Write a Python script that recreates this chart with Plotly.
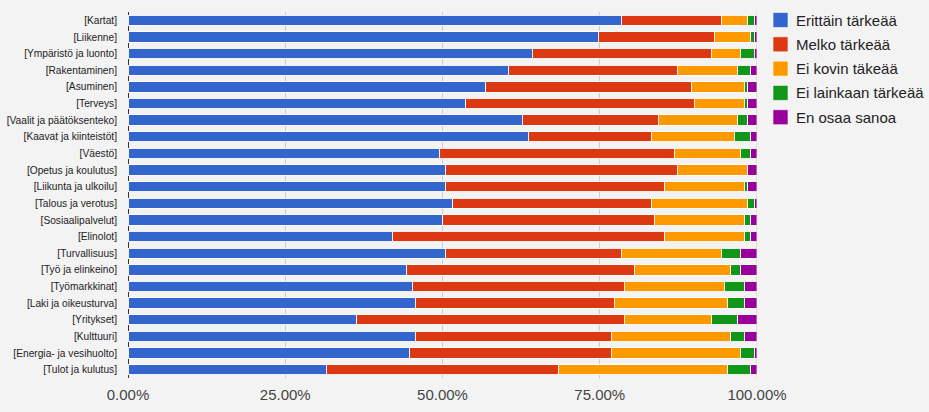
import plotly.graph_objects as go

categories = ["[Kartat]", "[Liikenne]", "[Ympäristö ja luonto]", "[Rakentaminen]", "[Asuminen]",
              "[Terveys]", "[Vaalit ja päätöksenteko]", "[Kaavat ja kiinteistöt]", "[Väestö]",
              "[Opetus ja koulutus]", "[Liikunta ja ulkoilu]", "[Talous ja verotus]",
              "[Sosiaalipalvelut]", "[Elinolot]", "[Turvallisuus]", "[Työ ja elinkeino]",
              "[Työmarkkinat]", "[Laki ja oikeusturva]", "[Yritykset]", "[Kulttuuri]",
              "[Energia- ja vesihuolto]", "[Tulot ja kulutus]"]

erittain = [78.4, 74.8, 64.3, 60.5, 56.9, 53.7, 62.7, 63.7, 49.5, 50.5, 50.5, 51.6, 50.0, 42.0,
            50.5, 44.3, 45.3, 45.7, 36.4, 45.7, 44.8, 31.5]
melko = [15.9, 18.4, 28.4, 26.8, 32.7, 36.3, 21.6, 19.5, 37.4, 36.8, 34.8, 31.6, 33.7, 43.3,
         27.9, 36.2, 33.6, 31.6, 42.5, 31.1, 32.0, 37.0]
ei_kovin = [4.2, 5.7, 4.6, 9.6, 8.4, 8.0, 12.6, 13.2, 10.4, 11.2, 12.7, 15.3, 14.3, 12.7,
            15.9, 15.3, 15.9, 18.0, 13.8, 19.0, 20.5, 26.8]
ei_lainkaan = [1.1, 0.7, 2.3, 2.0, 0.5, 0.5, 1.6, 2.5, 1.6, 0.0, 0.5, 1.1, 0.9, 0.9,
               3.0, 1.5, 3.2, 2.7, 4.2, 2.2, 2.3, 3.6]
en_osaa = [0.4, 0.4, 0.4, 1.1, 1.5, 1.5, 1.5, 1.1, 1.1, 1.5, 1.5, 0.4, 1.1, 1.1,
           2.7, 2.7, 2.0, 2.0, 3.1, 2.0, 0.4, 1.1]

tick_vals = [0, 0.25, 0.5, 0.75, 1.0]
tick_text = ["0.00%", "25.00%", "50.00%", "75.00%", "100.00%"]

series_names = ["Erittäin tärkeää", "Melko tärkeää", "Ei kovin täkeää", "Ei lainkaan tärkeää", "En osaa sanoa"]
series_values = [erittain, melko, ei_kovin, ei_lainkaan, en_osaa]
series_colors = ["#3366cc", "#dc3912", "#ff9900", "#109618", "#990099"]

W, H = 929, 412
ML, MR, MT, MB = 128, 172, 12, 34

fig = go.Figure()
for name, vals, col in zip(series_names, series_values, series_colors):
    fig.add_trace(go.Bar(
        y=categories, x=[v / 100 for v in vals], name=name, orientation="h",
        marker=dict(color=col, line=dict(color="rgba(255,255,255,0.9)", width=1)),
        showlegend=False,
    ))

# manual legend (paper coordinates converted from pixels)
plot_w = W - ML - MR
plot_h = H - MT - MB
def px_x(px):
    return (px - ML) / plot_w
def px_y(py):
    return 1 - (py - MT) / plot_h

leg_y0 = 20
leg_step = 24.3
for i, (name, col) in enumerate(zip(series_names, series_colors)):
    cy = leg_y0 + i * leg_step
    fig.add_shape(type="rect", xref="paper", yref="paper",
                  x0=px_x(773), x1=px_x(788), y0=px_y(cy + 7.5), y1=px_y(cy - 7.5),
                  fillcolor=col, line=dict(color="rgba(255,255,255,0.6)", width=1))
    fig.add_annotation(xref="paper", yref="paper", x=px_x(794), y=px_y(cy),
                       text=name, showarrow=False, xanchor="left", yanchor="middle",
                       font=dict(size=15, color="#222222"))

fig.update_layout(
    barmode="stack",
    bargap=0.38,
    width=W, height=H,
    margin=dict(l=ML, r=MR, t=MT, b=MB, autoexpand=False),
    paper_bgcolor="#f3f3f3",
    plot_bgcolor="#f3f3f3",
    font=dict(family="Arial, Liberation Sans, sans-serif", color="#222222"),
    showlegend=False,
)
fig.update_xaxes(range=[0, 1], tickvals=tick_vals, ticktext=tick_text,
                 showgrid=True, gridcolor="#cccccc", gridwidth=1,
                 zeroline=True, zerolinecolor="#333333", zerolinewidth=1,
                 tickfont=dict(size=15, color="#444444"), ticks="", ticklen=0,
                 ticklabelstandoff=6,
                 automargin=False, fixedrange=True)
fig.update_yaxes(autorange="reversed", tickfont=dict(size=10.2, color="#222222"),
                 ticks="", showgrid=False, automargin=False, ticklabelstandoff=10,
                 fixedrange=True)
fig.add_shape(type="line", xref="x", yref="paper", x0=1, x1=1, y0=0, y1=1,
              line=dict(color="#cccccc", width=1))

fig.write_html("out.html", config={"displayModeBar": False},
               post_script="document.body.style.margin='0';document.body.style.background='#f3f3f3';")
